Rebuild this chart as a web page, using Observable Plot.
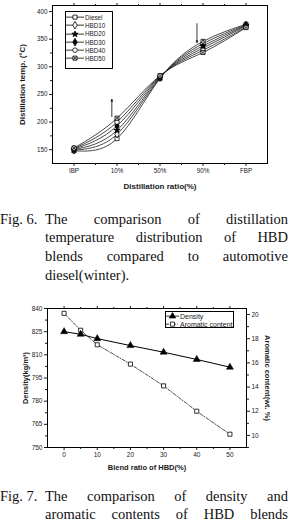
<!DOCTYPE html>
<html><head><meta charset="utf-8">
<script src="https://cdn.jsdelivr.net/npm/d3@7"></script>
<script src="https://cdn.jsdelivr.net/npm/@observablehq/plot@0.6"></script>
<style>
body{margin:0;width:289px;height:525px;overflow:hidden;position:relative;background:#fff;font-family:"Liberation Sans",Arial,sans-serif;color:#111;}
.abs{position:absolute;left:0;}
.cap{position:absolute;left:45px;width:243px;font-family:"Liberation Serif","DejaVu Serif",serif;font-size:14.5px;line-height:18.7px;color:#111;}
.cap .ln{display:block;width:243px;text-align:justify;text-align-last:justify;position:relative;}
.cap .ln.last{text-align-last:left;}
.cap .fig{position:absolute;left:-45px;top:0;}
.legend{position:absolute;border:1px solid #000;box-sizing:border-box;background:#fff;}
.legend .row{display:flex;align-items:center;white-space:nowrap;}
.legend svg{display:block;flex:none;}
</style></head>
<body>
<div id="c1" class="abs" style="top:0"></div>
<div id="leg1" class="legend" style="left:65px;top:11px;width:48px;height:58px;padding-top:1px"></div>
<div class="cap" style="top:209.5px">
  <div class="ln"><span class="fig">Fig. 6.</span>The comparison of distillation</div>
  <div class="ln">temperature distribution of HBD</div>
  <div class="ln">blends compared to automotive</div>
  <div class="ln last">diesel(winter).</div>
</div>
<div id="c2" class="abs" style="top:300px"></div>
<div id="leg2" class="legend" style="left:165px;top:311px;width:69px;height:17px;padding-top:0px"></div>
<div class="cap" style="top:486.5px">
  <div class="ln"><span class="fig">Fig. 7.</span>The comparison of density and</div>
  <div class="ln">aromatic contents of HBD blends</div>
</div>
<script>
// ---------- Chart 1 data ----------
const stages = ["IBP", "10%", "50%", "90%", "FBP"];
const seriesNames = ["Diesel", "HBD10", "HBD20", "HBD30", "HBD40", "HBD50"];
const diesel = [148, 170, 279, 346, 377];
const hbd10  = [149, 178, 280, 342, 376];
const hbd20  = [150, 185, 281, 338, 375];
const hbd30  = [151, 193, 282, 334, 374];
const hbd40  = [152, 200, 283, 330, 372];
const hbd50  = [153, 207, 284, 326, 371];
const yTicks1 = [150, 200, 250, 300, 350, 400];
const arrowNotes = [
  {x: 0.88, from: 210, to: 241},
  {x: 2.86, from: 378, to: 344}
];

// ---------- Chart 2 data ----------
const blendRatio = [0, 5, 10, 20, 30, 40, 50];
const densityVals = [825, 823.3, 820.5, 816, 811.7, 807, 802];
const aromaticVals = [20.1, 18.7, 17.5, 15.9, 14.1, 12.0, 10.1];
const densityTicks = [750, 765, 780, 795, 810, 825, 840];
const aromaticTicks = [10, 12, 14, 16, 18, 20];
const blendTicks = [0, 10, 20, 30, 40, 50];

// ---------- styles ----------
const symStyle = {
  Diesel: {symbol: "square", fill: "#fff"},
  HBD10: {symbol: "diamond", fill: "#fff"},
  HBD20: {symbol: "star", fill: "#000"},
  HBD30: {symbol: "diamond", fill: "#000"},
  HBD40: {symbol: "circle", fill: "#fff"},
  HBD50: {symbol: "square", fill: "#fff", cross: true}
};
const R = 2.3;

const allSeries = [diesel, hbd10, hbd20, hbd30, hbd40, hbd50];
const rows1 = [];
seriesNames.forEach((s, k) => allSeries[k].forEach((v, i) => rows1.push({s, i, v})));

const marks1 = [
  Plot.frame({stroke: "#000", strokeWidth: 1}),
  Plot.axisX({ticks: [0, 1, 2, 3, 4], tickFormat: i => stages[i], tickSize: 3, tickPadding: 2, fontSize: 6.3, label: null}),
  Plot.axisX({ticks: [0.5, 1.5, 2.5, 3.5], tickFormat: () => "", tickSize: 2, label: null}),
  Plot.axisX({anchor: "top", ticks: [0, 1, 2, 3, 4], tickFormat: () => "", tickSize: 3, label: null}),
  Plot.axisX({anchor: "top", ticks: [0.5, 1.5, 2.5, 3.5], tickFormat: () => "", tickSize: 2, label: null}),
  Plot.axisY({ticks: yTicks1, tickSize: 3, tickPadding: 2, fontSize: 6.3, label: null}),
  Plot.axisY({ticks: yTicks1.slice(0, -1).map(t => t + 25), tickFormat: () => "", tickSize: 2, label: null}),
  Plot.line(rows1, {x: "i", y: "v", z: "s", curve: "natural", stroke: "#1a1a1a", strokeWidth: 0.8}),
  Plot.arrow(arrowNotes, {x1: "x", y1: "from", x2: "x", y2: "to", headLength: 4, headAngle: 40, strokeWidth: 0.8, stroke: "#000"})
];
seriesNames.forEach(s => {
  const st = symStyle[s];
  const data = rows1.filter(d => d.s === s);
  marks1.push(Plot.dot(data, {x: "i", y: "v", symbol: st.symbol, fill: st.fill, stroke: "#000", strokeWidth: 0.8, r: st.symbol === "star" ? R * 0.85 : R}));
  if (st.cross) marks1.push(Plot.dot(data, {x: "i", y: "v", symbol: "times", stroke: "#000", strokeWidth: 0.8, r: R * 0.8}));
});
marks1.push(
  Plot.text(["Distillation ratio(%)"], {frameAnchor: "bottom", dy: 23, lineAnchor: "middle", textAnchor: "middle", fontWeight: "bold", fontSize: 8}),
  Plot.text(["Distillation temp. (°C)"], {frameAnchor: "left", dx: -30, rotate: -90, lineAnchor: "middle", textAnchor: "middle", fontWeight: "bold", fontSize: 8})
);

const chart1 = Plot.plot({
  width: 289, height: 195,
  marginLeft: 52, marginRight: 22, marginTop: 5, marginBottom: 32,
  style: {fontFamily: "Liberation Sans, Arial, sans-serif", background: "transparent", color: "#1a1a1a", overflow: "visible"},
  x: {type: "linear", domain: [-0.5, 4.5]},
  y: {domain: [125, 411]},
  marks: marks1
});
document.getElementById("c1").append(chart1);

// ---------- legend helper ----------
function symPath(name, r) {
  const t = {square: d3.symbolSquare, diamond: d3.symbolDiamond, star: d3.symbolStar, circle: d3.symbolCircle, times: d3.symbolTimes, triangle: d3.symbolTriangle}[name];
  return d3.symbol(t, r * r * Math.PI)();
}
function legendRow(w, h, st, label, fontSize, dash) {
  const cx = w / 2, cy = h / 2;
  const rr = st.symbol === "star" ? R * 0.85 : R;
  let svg = `<svg width="${w}" height="${h}"><line x1="0" x2="${w}" y1="${cy}" y2="${cy}" stroke="#000" stroke-width="0.8" ${dash ? `stroke-dasharray="${dash}"` : ""}/>`;
  svg += `<path transform="translate(${cx},${cy})" d="${symPath(st.symbol, rr)}" fill="${st.fill}" stroke="#000" stroke-width="0.8"/>`;
  if (st.cross) svg += `<path transform="translate(${cx},${cy})" d="${symPath("times", R * 0.8)}" fill="none" stroke="#000" stroke-width="0.8"/>`;
  svg += `</svg>`;
  return `<div class="row" style="height:${h}px">${svg}<span style="font-size:${fontSize}px;margin-left:1px;color:#1a1a1a">${label}</span></div>`;
}
document.getElementById("leg1").innerHTML = seriesNames.map(s => legendRow(18, 8.3, symStyle[s], s, 6.3)).join("");

// ---------- Chart 2 ----------
const aroToDen = d3.scaleLinear().domain([9, 20.5]).range([750, 840]);
const dRows = blendRatio.map((b, i) => ({b, v: densityVals[i]}));
const aRows = blendRatio.map((b, i) => ({b, v: aroToDen(aromaticVals[i])}));
const aroDash = "3,1.5,0.8,1.5";

const chart2 = Plot.plot({
  width: 289, height: 175,
  marginLeft: 47, marginRight: 43, marginTop: 8, marginBottom: 28,
  style: {fontFamily: "Liberation Sans, Arial, sans-serif", background: "transparent", color: "#1a1a1a", overflow: "visible"},
  x: {domain: [-5, 55]},
  y: {domain: [750, 840]},
  marks: [
    Plot.frame({stroke: "#000", strokeWidth: 1}),
    Plot.axisX({ticks: blendTicks, tickSize: 3, tickPadding: 2, fontSize: 6.5, label: null}),
    Plot.axisX({ticks: blendTicks.slice(0, -1).map(t => t + 5), tickFormat: () => "", tickSize: 2, label: null}),
    Plot.axisX({anchor: "top", ticks: blendTicks, tickFormat: () => "", tickSize: 3, label: null}),
    Plot.axisX({anchor: "top", ticks: blendTicks.slice(0, -1).map(t => t + 5), tickFormat: () => "", tickSize: 2, label: null}),
    Plot.axisY({ticks: densityTicks, tickSize: 3, tickPadding: 2, fontSize: 6.5, label: null}),
    Plot.axisY({ticks: densityTicks.slice(0, -1).map(t => t + 7.5), tickFormat: () => "", tickSize: 2, label: null}),
    Plot.axisY({anchor: "right", ticks: aromaticTicks.map(aroToDen), tickFormat: d => Math.round(aroToDen.invert(d)), tickSize: 3, tickPadding: 2, fontSize: 6.5, label: null}),
    Plot.axisY({anchor: "right", ticks: aromaticTicks.map(t => aroToDen(t - 1)), tickFormat: () => "", tickSize: 2, label: null}),
    Plot.line(aRows, {x: "b", y: "v", stroke: "#1a1a1a", strokeWidth: 0.8, strokeDasharray: aroDash}),
    Plot.dot(aRows, {x: "b", y: "v", symbol: "square", fill: "#fff", stroke: "#000", strokeWidth: 0.8, r: R}),
    Plot.line(dRows, {x: "b", y: "v", stroke: "#000", strokeWidth: 1}),
    Plot.dot(dRows, {x: "b", y: "v", symbol: "triangle", fill: "#000", stroke: "#000", strokeWidth: 0.5, r: 2.6}),
    Plot.text(["Blend ratio of HBD(%)"], {frameAnchor: "bottom", dy: 20, lineAnchor: "middle", textAnchor: "middle", fontWeight: "bold", fontSize: 7.5}),
    Plot.text(["Density(kg/m³)"], {frameAnchor: "left", dx: -22, rotate: -90, lineAnchor: "middle", textAnchor: "middle", fontWeight: "bold", fontSize: 7.5}),
    Plot.text(["Aromatic content(wt. %)"], {frameAnchor: "right", dx: 21, rotate: 90, lineAnchor: "middle", textAnchor: "middle", fontWeight: "bold", fontSize: 7.5})
  ]
});
document.getElementById("c2").append(chart2);

document.getElementById("leg2").innerHTML =
  legendRow(13, 8.3, {symbol: "triangle", fill: "#000"}, "Density", 7) +
  legendRow(13, 8.3, {symbol: "square", fill: "#fff"}, "Aromatic content", 7, aroDash);
</script>
</body></html>
